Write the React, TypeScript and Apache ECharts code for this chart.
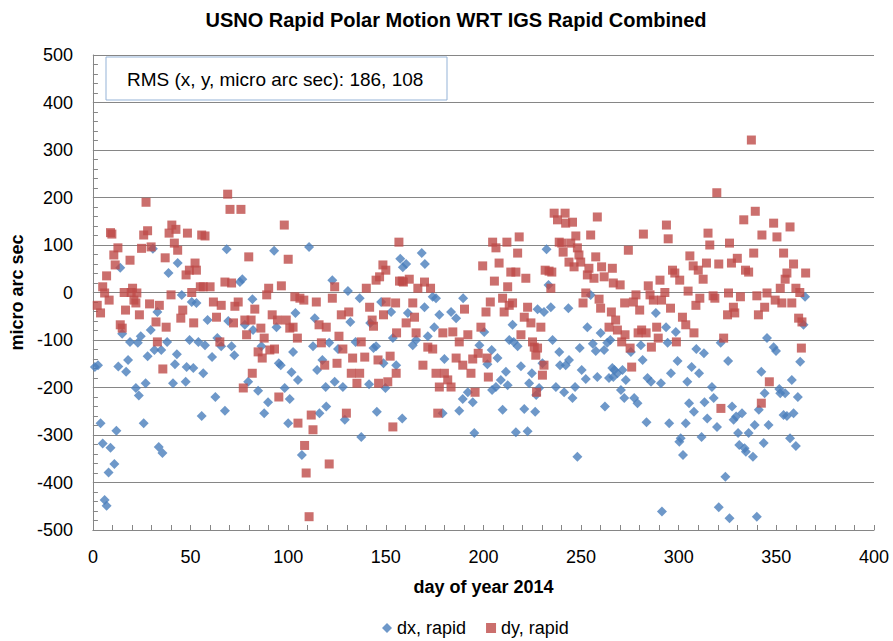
import React, { useEffect, useRef } from "react";
import * as echarts from "echarts";

const chartTitle = "USNO Rapid Polar Motion WRT IGS Rapid Combined";
const rmsLabel = "RMS (x, y, micro arc sec): 186, 108";
const xAxisTitle = "day of year 2014";
const yAxisTitle = "micro arc sec";
const seriesNames = ["dx, rapid", "dy, rapid"];

// [day of year, micro arc sec]
const dxRapid: number[][] = [
  [1, -157], [2.6, -153], [3.9, -275], [5, -318], [6, -437], [7, -449], [8, -379], [9, -327], [11, -361], [12, -291],
  [13, -156], [14, 52], [15, -87], [17, -167], [18, -142], [19, -104], [22, -201], [23, -106], [23.5, -217], [24.5, -92],
  [26, -275], [27, -191], [28, -134], [29.6, -79], [30.7, 92], [31.5, -121], [33, -41], [33.7, -325], [35, -121], [35.6, -338],
  [38, -104], [38.7, 41], [41, -191], [42, -151], [43, -130], [43.4, 62], [45.5, -5], [47.5, -188], [48, -157], [49.5, -100],
  [50.6, -20], [51.4, -159], [53, -22], [54, -104], [55.7, -260], [56.5, -170], [57.4, -111], [58.7, -58], [61, -136], [62.7, -220],
  [63.7, -96], [65.7, -113], [67.6, -249], [68.5, 91], [69.3, -60], [71, -113], [72.4, -132], [75.3, 22], [76.5, 28], [77.8, -68],
  [79.5, -188], [81.7, -14], [82, -79], [84.6, -207], [86.3, -113], [87.7, -254], [89.7, -231], [92.8, 88], [94, -73], [95.2, -149],
  [96.2, -153], [98.2, -201], [100, -275], [100.8, -224], [101.7, -168], [102.5, -125], [103.7, -43], [105, -184], [107, -342], [110.7, 96],
  [112.7, -113], [113.6, -54], [114.8, -163], [116, -254], [117.5, -142], [119.2, -199], [119.5, -240], [121, -106], [122.6, 26], [123.8, -188],
  [125.5, -119], [128, -199], [129, -268], [130.6, 3], [131.8, -62], [134.5, -104], [136.6, -12], [137.4, -304], [141.4, -193], [142, -64],
  [143.7, -117], [145, -113], [145.4, -251], [147.6, -20], [148.8, -149], [149.8, -201], [152.7, -41], [153.6, -96], [155.3, -153], [157.4, 71],
  [158.4, -265], [158.7, 53], [160.4, 60], [161.3, -43], [163.8, -111], [165.5, -100], [168.4, 83], [169.8, -31], [170, 60], [171.5, -92],
  [174, -9], [174.8, -73], [175.7, -12], [177.4, -47], [179.1, -254], [180, -140], [183.4, -41], [186, -54], [187.6, -249], [189.4, -224],
  [189.6, -12], [192, -210], [194.5, -231], [195.3, -296], [197.9, -111], [200.4, -83], [202, -151], [204.2, -121], [204.4, -205], [206.4, -199],
  [207.2, -138], [208.9, -184], [209.8, -247], [211.5, -167], [212.4, -195], [213.2, -100], [214.9, -68], [215.5, -104], [216.6, -294], [217.5, -113],
  [219.2, -155], [220.9, -245], [222.6, -292], [223.4, -191], [224.8, -170], [226.5, -251], [227, -216], [227.7, -35], [228.5, -201], [230.2, -149],
  [231, -41], [232.3, 91], [233.3, 16], [234.5, -31], [235.4, -100], [237.1, -199], [238.8, -125], [239.2, -153], [241.3, -210], [242.1, -153],
  [243.5, -33], [243.8, -142], [245.6, -222], [246.9, -199], [248.1, -346], [249.3, -117], [250.3, -163], [252.4, -182], [253.2, -73], [254.9, -5],
  [256, -108], [257.5, -123], [258.3, -178], [260, -85], [261.8, -121], [262.2, -240], [263.4, -106], [264.3, -180], [265, -100], [266, -159],
  [266.5, -178], [267, -163], [268.6, -170], [270.4, -205], [271.2, -163], [272.1, -222], [272.9, -184], [275.5, -125], [277.2, -222], [278.9, -233],
  [280.6, -111], [281.5, -142], [283.5, -273], [284, -180], [285.8, -188], [288.3, -43], [290.9, -191], [291.4, -461], [293.5, -73], [294.3, -106],
  [295.1, -275], [296, -170], [298.5, -83], [299.4, -144], [300.3, -314], [301, -307], [302.2, -342], [303.6, -275], [304.4, -188], [305.3, -233],
  [306.6, -157], [307.8, -251], [309, -119], [310.4, -170], [311.7, -304], [312.9, -128], [313.2, -231], [314.6, -265], [317, -199], [317.9, -222],
  [319.6, -283], [320.5, -452], [321.5, -106], [323.9, -388], [325.3, -144], [326, -475], [327.3, -240], [328.1, -268], [329.4, -261], [330.4, -296],
  [331, -321], [332.4, -254], [333.7, -328], [334.4, -335], [335.8, -296], [338, -346], [338.9, -279], [340, -472], [341, -247], [342.3, -167],
  [343.5, -317], [344, -212], [345.2, -96], [346, -279], [348.6, -115], [349.8, -123], [351.5, -203], [352, -212], [353.7, -258], [354.5, -212],
  [355.4, -260], [357, -307], [357.9, -184], [358.8, -254], [360, -323], [361, -220], [362.2, -146], [363.9, -68], [364.7, -9],
];

const dyRapid: number[][] = [
  [2.2, -27], [3.9, -43], [5, 12], [6, -1], [7, 35], [8.3, -16], [9, 126], [9.7, 123], [10.7, 79], [11.4, 58],
  [12.8, 94], [14, -68], [15, -75], [16, 0], [16.7, -37], [19, 68], [19.6, 0], [20.3, 9], [21, -16], [22, -22],
  [22.5, -1], [23.8, -47], [24.9, 93], [26, 121], [27.2, 190], [28, 130], [29, -24], [29.8, 96], [32.3, -62], [33, -104],
  [34, -27], [35.8, -161], [37, 73], [37.5, -73], [39, 125], [40, -5], [40.4, 142], [41.7, 104], [42.5, 133], [43.4, 89],
  [45, -54], [46, -37], [47.7, 37], [48.4, 125], [49.4, 47], [50.6, 0], [51.6, -64], [52.3, 62], [53, 47], [55, 12],
  [55.7, 121], [56.5, 12], [57.4, 119], [60, 12], [61.7, -20], [63.3, -52], [65, -104], [65.7, -27], [67.6, 22], [69, 207],
  [70.2, 175], [71, 20], [72, -64], [72.7, -29], [74.4, -20], [75.8, 175], [77, -201], [77.8, -58], [78.7, -89], [79.8, 75],
  [81, -58], [81.6, -170], [82.9, -35], [84.6, -125], [86, -75], [86.7, -138], [87.7, -96], [89, -5], [90, 9], [90.6, -121],
  [91.8, -47], [93, -119], [94.5, -58], [95.2, -220], [96.5, 14], [98, 142], [99, -58], [100, 70], [100.8, -75], [102.5, -73],
  [103.4, -9], [104.7, -96], [105, -275], [106, -12], [108, -16], [108.4, -322], [109.2, -380], [110.7, -472], [111.8, -258], [112.7, -289],
  [114.4, -20], [115.8, -68], [117, -106], [118.7, -153], [119.5, -73], [121, -361], [122.6, -12], [123.8, 12], [125, -149], [126, -92],
  [127.2, -47], [128, -119], [129.8, -254], [131, -41], [132.3, -170], [133, -138], [135.2, -191], [136.6, -170], [137.4, -104], [139.2, -136],
  [140, 9], [141.7, -31], [143, -58], [143.7, -71], [145, 26], [146, -142], [146.3, -191], [146.8, 33], [148.5, 58], [148.8, -47],
  [150, 47], [150.2, -20], [151, -188], [152.2, -134], [153.6, -283], [155, -22], [155.3, -170], [155.5, -85], [156.7, 106], [157, 24],
  [158.4, 24], [159, 22], [160.4, -64], [162, 28], [163.8, -22], [164.7, -52], [165.5, -85], [166.4, 9], [169, -153], [169.8, 22],
  [171.5, -115], [172.9, 9], [174, -119], [175.7, -170], [176.6, -254], [177.4, -199], [179.2, -85], [180, -170], [181.7, -184], [183.4, -199],
  [184.3, -83], [186, -138], [187.6, -104], [189.4, -153], [190.3, -35], [192, -89], [193.6, -170], [194.5, -140], [195.7, -210], [197.3, -128],
  [198.7, -73], [199.6, 56], [201.3, -41], [201.8, -138], [202.5, -178], [203.5, -20], [204.7, 106], [205.6, 24], [206.4, 94], [208, 62],
  [209.8, -12], [210.6, -41], [212, 106], [212.4, 12], [213.2, -27], [214, 43], [214.9, -22], [216.6, 43], [217.5, 83], [218.3, 117],
  [219.2, -89], [220.9, -52], [221.7, 30], [222.6, -31], [224.3, -64], [225.1, -104], [226, -115], [226.8, -132], [227.2, -210], [227.7, -117],
  [229.4, -73], [230.2, -174], [231, -153], [231.6, 47], [233.6, 45], [234.5, 9], [235, 43], [236.2, 167], [237.9, 153], [238.8, 106],
  [240.1, 104], [240.8, 85], [241.8, 167], [242.1, 146], [243.8, 64], [244.7, 104], [245.6, 148], [246.4, 54], [247.3, 119], [248.1, 94],
  [248.9, 79], [249.8, 64], [251, -22], [252.4, -1], [253.2, 37], [254, 51], [254.9, 121], [256.6, 30], [257.5, 75], [258.3, 159],
  [259.2, -14], [260, -33], [260.5, 54], [261.8, 33], [264.3, -73], [265.5, -41], [266, 51], [266.5, 20], [267.7, -58], [268.6, -79],
  [270, 16], [270.8, -104], [272.3, -22], [272.5, -89], [274.2, 89], [275.1, -117], [275.9, -157], [276.8, -20], [278.1, -5], [279.2, -85],
  [280, -37], [281, -79], [281.9, 123], [283.3, -85], [284.4, 14], [285.3, -5], [286, -115], [287, -16], [288.7, -73], [289.5, -96],
  [290.4, 26], [291.2, -16], [292.9, 0], [293.7, 142], [294.6, 113], [295.8, -33], [296.8, 47], [298, 41], [298.8, -104], [300.5, 26],
  [301.9, -52], [303.6, -68], [304.8, 3], [305.7, 77], [307.4, 56], [307.8, -85], [308.8, -27], [310, 47], [310.8, -12], [312.5, 28],
  [314.2, 62], [315, 125], [315.9, 100], [317.6, -7], [318.5, -12], [319.5, 210], [320.5, 60], [321.6, -244], [323, -96], [325, -47],
  [325.5, -1], [326, 104], [327, 62], [328, -31], [328.7, -43], [330, 72], [331.6, -9], [333.3, 153], [334.2, 47], [335.8, 43],
  [337.2, 321], [338.4, 83], [339.2, 171], [340, -7], [340.8, -47], [342.3, -233], [342.6, 121], [344, -31], [345.2, -1], [346.4, -188],
  [348.6, 146], [349.4, -16], [350.3, 117], [352, 9], [352.8, -22], [353.7, 83], [354.5, 28], [355.4, 41], [357, 138], [357.9, -22],
  [358.8, 60], [360, 9], [361.4, -54], [362, 0], [362.8, -117], [363.1, -62], [365, 41],
];

const xTicks = [0, 50, 100, 150, 200, 250, 300, 350, 400];
const yTicks = [-500, -400, -300, -200, -100, 0, 100, 200, 300, 400, 500];

const FONT = "'Liberation Sans', Arial, sans-serif";

export default function App() {
  const ref = useRef<HTMLDivElement>(null);
  useEffect(() => {
    if (!ref.current) return;
    const chart = echarts.init(ref.current, undefined, { renderer: "svg" });
    chart.setOption({
      animation: false,
      backgroundColor: "#ffffff",
      textStyle: { fontFamily: FONT },
      title: {
        text: chartTitle,
        left: 451,
        textAlign: "center",
        top: 5,
        textStyle: { fontFamily: FONT, fontSize: 20, fontWeight: "bold", color: "#000" },
      },
      legend: {
        left: 377,
        top: 614,
        itemGap: 20,
        itemWidth: 10,
        itemHeight: 10,
        textStyle: { fontFamily: FONT, fontSize: 18, color: "#000" },
        data: [
          { name: seriesNames[0], icon: "diamond" },
          { name: seriesNames[1], icon: "rect" },
        ],
      },
      grid: { left: 92, top: 55, width: 782, height: 475, containLabel: false },
      xAxis: {
        type: "value",
        min: xTicks[0],
        max: xTicks[xTicks.length - 1],
        interval: 50,
        name: xAxisTitle,
        nameLocation: "middle",
        nameGap: 48,
        nameTextStyle: { fontFamily: FONT, fontSize: 18, fontWeight: "bold", color: "#000" },
        axisLine: { show: true, onZero: false, lineStyle: { color: "#868686", width: 1 } },
        axisTick: { show: true, inside: true, length: 5, lineStyle: { color: "#868686" } },
        minorTick: { show: true, splitNumber: 5, length: 5, lineStyle: { color: "#868686" } },
        axisLabel: { margin: 18, fontFamily: FONT, fontSize: 18, color: "#000" },
        splitLine: { show: false },
      },
      yAxis: {
        type: "value",
        min: yTicks[0],
        max: yTicks[yTicks.length - 1],
        interval: 100,
        name: yAxisTitle,
        nameLocation: "middle",
        nameGap: 63,
        nameTextStyle: { fontFamily: FONT, fontSize: 18, fontWeight: "bold", color: "#000" },
        axisLine: { show: true, lineStyle: { color: "#868686", width: 1 } },
        axisTick: { show: true, inside: true, length: 5, lineStyle: { color: "#868686" } },
        minorTick: { show: true, splitNumber: 5, length: 5, lineStyle: { color: "#868686" } },
        axisLabel: { margin: 20, fontFamily: FONT, fontSize: 18, color: "#000" },
        splitLine: { show: true, lineStyle: { color: "#868686", width: 1 } },
      },
      graphic: [
        {
          type: "rect",
          shape: { x: 106, y: 57, width: 341, height: 43 },
          style: { fill: "#ffffff", stroke: "#95B3D7", lineWidth: 1 },
          z: 10,
        },
        {
          type: "text",
          x: 127,
          y: 79,
          style: {
            text: rmsLabel,
            fontFamily: FONT,
            fontSize: 19,
            fill: "#000",
            verticalAlign: "middle",
          },
          z: 11,
        },
      ],
      series: [
        {
          name: seriesNames[0],
          type: "scatter",
          symbol: "diamond",
          symbolSize: [10, 10],
          itemStyle: { color: "#4A7EBB" },
          data: dxRapid,
          z: 2,
        },
        {
          name: seriesNames[1],
          type: "scatter",
          symbol: "rect",
          symbolSize: 9,
          itemStyle: { color: "#BE4B48" },
          data: dyRapid,
          z: 3,
        },
      ],
    });
    return () => chart.dispose();
  }, []);
  return (
    <div
      ref={ref}
      style={{ position: "fixed", left: 0, top: 0, width: 893, height: 641, background: "#fff" }}
    />
  );
}
